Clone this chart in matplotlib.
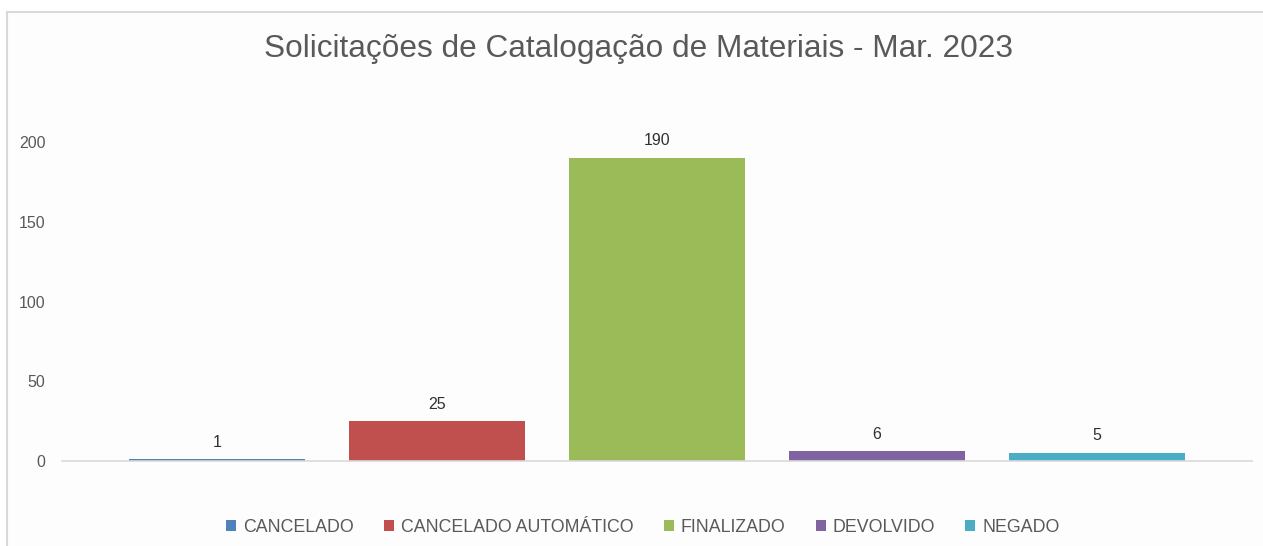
import matplotlib
matplotlib.use("Agg")
import matplotlib.pyplot as plt
from matplotlib.patches import Rectangle

categories = ["CANCELADO", "CANCELADO AUTOMÁTICO", "FINALIZADO", "DEVOLVIDO", "NEGADO"]
values = [1, 25, 190, 6, 5]
yticks = [0, 50, 100, 150, 200]
colors = ["#4F81BD", "#C0504D", "#9BBB59", "#8064A2", "#4BACC6"]
title = "Solicitações de Catalogação de Materiais - Mar. 2023"

plt.rcParams['font.family'] = ['Liberation Sans', 'DejaVu Sans']

W, H = 1263, 546
fig = plt.figure(figsize=(W / 100, H / 100), dpi=100)
fig.patch.set_facecolor("white")

# chart frame
frame = Rectangle((7 / W, -0.01), (W + 10) / W, (H - 12) / H + 0.01,
                  transform=fig.transFigure, facecolor="#fdfdfd",
                  edgecolor="#d9d9d9", linewidth=1.5, zorder=-5)
fig.patches.append(frame)

ymax = 220
x0, x1 = 62, 1252
ybase = 461
ytop = ybase - ymax * (461 - 142) / 200
ax = fig.add_axes([x0 / W, 1 - ybase / H, (x1 - x0) / W, (ybase - ytop) / H])
ax.set_facecolor("none")
ax.set_zorder(2)

for i, (c, v, col) in enumerate(zip(categories, values, colors)):
    ax.bar(i, v, width=0.8, color=col, label=c, zorder=2)
    ax.text(i, v + 6, str(v), ha="center", va="bottom", fontsize=11.5,
            color="#303030")

ax.set_xlim(-0.705, 4.705)
ax.set_ylim(0, ymax)
ax.set_yticks(yticks)
ax.set_yticklabels([str(t) for t in yticks], fontsize=11.5, color="#595959")
ax.tick_params(axis="y", length=0, pad=12)
ax.set_xticks([])
for s in ["top", "right", "left"]:
    ax.spines[s].set_visible(False)
ax.spines["bottom"].set_color("#d9d9d9")
ax.spines["bottom"].set_linewidth(1.2)

fig.text(0.5 * (268 + 1010) / W, 1 - 49 / H, title, ha="center", va="center",
         fontsize=22.7, color="#595959")

leg = fig.legend(loc="center", bbox_to_anchor=(643 / W, 1 - 527 / H), ncol=5,
                 frameon=False, fontsize=12.8, handlelength=0.55, handleheight=0.55,
                 handletextpad=0.4, columnspacing=1.7)
for t in leg.get_texts():
    t.set_color("#595959")

fig.savefig("out.png", dpi=100)
